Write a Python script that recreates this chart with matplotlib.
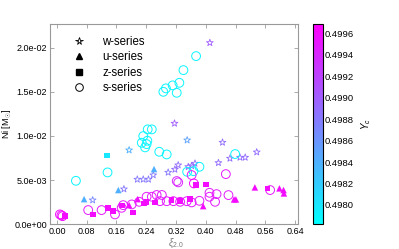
import numpy as np
import matplotlib
matplotlib.use('Agg')
import matplotlib.pyplot as plt
from matplotlib.lines import Line2D

plt.rcParams['font.family'] = ['Liberation Sans', 'DejaVu Sans']
plt.rcParams['mathtext.fontset'] = 'custom'
plt.rcParams['mathtext.rm'] = 'Liberation Sans'
plt.rcParams['mathtext.it'] = 'Liberation Sans:italic'

# w-series (open stars)
w_xi = [0.411, 0.316, 0.350, 0.194, 0.445, 0.537, 0.299, 0.259, 0.246, 0.232, 0.216,
        0.180, 0.096, 0.326, 0.317, 0.353, 0.362, 0.371, 0.434, 0.465, 0.492, 0.506]
w_ni = [0.02056, 0.01142, 0.00952, 0.00839, 0.00926, 0.00816, 0.00586, 0.00556, 0.00507,
        0.00507, 0.00507, 0.00397, 0.00272, 0.00669, 0.00620, 0.00650, 0.00660, 0.00688,
        0.00695, 0.00745, 0.00756, 0.00756]
w_yc = [0.4990, 0.4990, 0.4985, 0.4984, 0.4989, 0.4989, 0.4988, 0.4988, 0.4988, 0.4988,
        0.4988, 0.4988, 0.4987, 0.4989, 0.4989, 0.4989, 0.4989, 0.4989, 0.4989, 0.4989,
        0.4989, 0.4989]

# u-series (filled triangles)
u_xi = [0.261, 0.165, 0.073, 0.194, 0.217, 0.532, 0.598, 0.609, 0.610, 0.476, 0.481, 0.393]
u_ni = [0.00624, 0.00386, 0.00283, 0.00215, 0.00283, 0.00416, 0.00405, 0.00386, 0.00348,
        0.00280, 0.00280, 0.00204]
u_yc = [0.4984, 0.4984, 0.4984, 0.4996, 0.4996, 0.4996, 0.4996, 0.4996, 0.4996, 0.4996,
        0.4996, 0.4996]

# z-series (filled squares)
z_xi = [0.135, 0.022, 0.096, 0.138, 0.151, 0.175, 0.204, 0.234, 0.241, 0.264, 0.308,
        0.331, 0.358, 0.374, 0.401, 0.566]
z_ni = [0.00778, 0.00090, 0.00110, 0.00185, 0.00147, 0.00210, 0.00133, 0.00235, 0.00253,
        0.00246, 0.00272, 0.00260, 0.00283, 0.00442, 0.00450, 0.00405]
z_yc = [0.4980, 0.4996, 0.4996, 0.4996, 0.4996, 0.4996, 0.4996, 0.4996, 0.4996, 0.4996,
        0.4996, 0.4996, 0.4996, 0.4996, 0.4996, 0.4996]

# s-series (open circles)
s_xi = [0.374, 0.340, 0.329, 0.311, 0.293, 0.286, 0.322,
        0.244, 0.255, 0.232, 0.228, 0.243, 0.241, 0.237,
        0.275, 0.295, 0.479, 0.136, 0.051, 0.350, 0.367, 0.383,
        0.008, 0.012, 0.015, 0.084, 0.120, 0.156, 0.178, 0.174, 0.201, 0.221,
        0.241, 0.255, 0.268, 0.282, 0.277, 0.295, 0.313, 0.331, 0.349, 0.362,
        0.322, 0.326, 0.362, 0.368, 0.454, 0.573, 0.410, 0.410, 0.429, 0.461,
        0.425, 0.383]
s_ni = [0.01905, 0.01746, 0.01602, 0.01573, 0.01539, 0.01500, 0.01489,
        0.01074, 0.01074, 0.00998, 0.00922, 0.00945, 0.00907, 0.00870,
        0.00820, 0.00790, 0.00794, 0.00586, 0.00491, 0.00593, 0.00600, 0.00650,
        0.00110, 0.00100, 0.00090, 0.00159, 0.00159, 0.00110, 0.00215, 0.00185, 0.00223, 0.00253,
        0.00310, 0.00310, 0.00330, 0.00330, 0.00260, 0.00260, 0.00260, 0.00253, 0.00260, 0.00246,
        0.00488, 0.00473, 0.00556, 0.00461, 0.00567, 0.00386, 0.00355, 0.00310, 0.00340, 0.00329,
        0.00253, 0.00264]
s_yc = [0.4979] * 22 + [0.4996, 0.4996, 0.4996, 0.4995, 0.4995, 0.4995, 0.4995, 0.4995,
                        0.4995, 0.4995, 0.4995, 0.4995, 0.4995, 0.4995, 0.4995, 0.4995,
                        0.4995, 0.4995, 0.4995, 0.4995, 0.4994, 0.4994, 0.4995, 0.4996,
                        0.4995, 0.4995, 0.4995, 0.4995, 0.4995, 0.4995, 0.4995, 0.4995]

cbar_ticks = [0.4980, 0.4982, 0.4984, 0.4986, 0.4988, 0.4990, 0.4992, 0.4994, 0.4996]
x_ticks = [0.00, 0.08, 0.16, 0.24, 0.32, 0.40, 0.48, 0.56, 0.64]
y_ticks = [0.0, 0.005, 0.01, 0.015, 0.02]

vmin, vmax = 0.49782, 0.49969
cmap = plt.get_cmap('cool')

fig = plt.figure(figsize=(3.99, 2.49), dpi=100)
ax = fig.add_axes([0.125, 0.100, 0.621, 0.804])
cax = fig.add_axes([0.784, 0.100, 0.026, 0.804])

ax.scatter(w_xi, w_ni, c='none', edgecolors=cmap((np.array(w_yc) - vmin) / (vmax - vmin)),
           marker='*', s=26, linewidths=0.6)
ax.scatter(s_xi, s_ni, c='none', edgecolors=cmap((np.array(s_yc) - vmin) / (vmax - vmin)),
           marker='o', s=40, linewidths=0.7)
ax.scatter(z_xi, z_ni, c=z_yc, cmap=cmap, vmin=vmin, vmax=vmax, marker='s', s=17,
           linewidths=0)
sc = ax.scatter(u_xi, u_ni, c=u_yc, cmap=cmap, vmin=vmin, vmax=vmax, marker='^', s=22,
                linewidths=0)

ax.set_xlim(-0.019, 0.647)
ax.set_ylim(0, 0.0227)
ax.set_xticks(x_ticks)
ax.set_xticklabels(['%.2f' % t for t in x_ticks])
ax.set_yticks(y_ticks)
ax.set_yticklabels(['%.1e' % t for t in y_ticks])
ax.tick_params(direction='in', top=True, right=True, labelsize=6.5, length=3,
               width=0.5, color='#888888', pad=2)
for sp in ax.spines.values():
    sp.set_color('#999999')
    sp.set_linewidth(0.8)

ax.set_xlabel(r'$\xi_{2.0}$', fontsize=7, color='#777777')
ax.xaxis.set_label_coords(0.51, -0.065)
ax.set_ylabel(r'Ni [M$_{\odot}$]', fontsize=6.5)
ax.yaxis.set_label_coords(-0.148, 0.5)

handles = [
    Line2D([], [], ls='none', marker='*', mfc='none', mec='k', ms=5.5, mew=0.6),
    Line2D([], [], ls='none', marker='^', mfc='k', mec='k', ms=4.5),
    Line2D([], [], ls='none', marker='s', mfc='k', mec='k', ms=3.8),
    Line2D([], [], ls='none', marker='o', mfc='none', mec='k', ms=5.5, mew=0.7),
]
ax.legend(handles, ['w-series', 'u-series', 'z-series', 's-series'], loc='upper left',
          frameon=False, fontsize=8.3, handletextpad=1.0, labelspacing=0.3,
          borderaxespad=0.3, bbox_to_anchor=(0.04, 0.98))

cb = fig.colorbar(sc, cax=cax, ticks=cbar_ticks)
cb.ax.set_yticklabels(['%.4f' % t for t in cbar_ticks])
cb.ax.tick_params(labelsize=6.8, length=0, pad=1)
cb.outline.set_linewidth(0.8)
cb.set_label(r'$Y_c$', fontsize=7, labelpad=4)

fig.savefig('out.png', dpi=100)
